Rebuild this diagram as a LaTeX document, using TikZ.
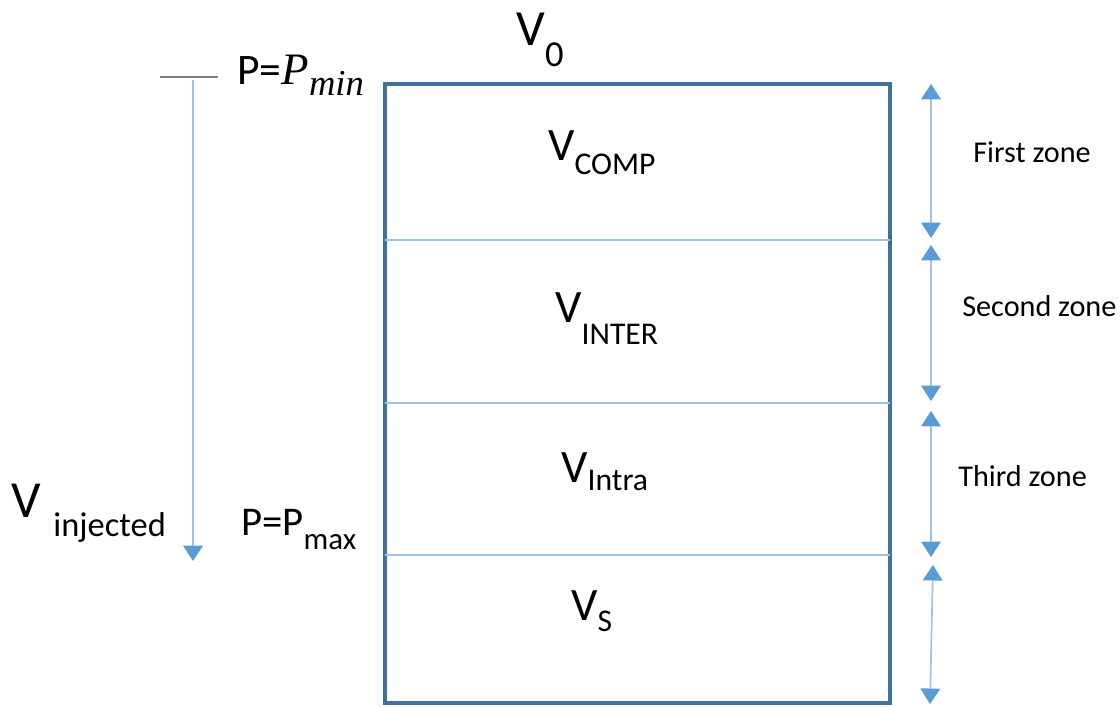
\documentclass[tikz,border=0pt]{standalone}
\usepackage{fontspec}
\setmainfont{Carlito}
\newfontfamily\pfont{Liberation Serif}
\usetikzlibrary{arrows.meta}
\definecolor{boxblue}{HTML}{41719C}
\definecolor{lineblue}{HTML}{9DC3E6}
\definecolor{tipblue}{HTML}{5B9BD5}
% V with a lowered label: #1 = drop, #2 = label
\newcommand{\vlabel}[2]{{\fontsize{33}{33}\selectfont V}\raisebox{-#1}{\fontsize{22.5}{22.5}\selectfont #2}}

\begin{document}
\begin{tikzpicture}[x=0.025cm, y=-0.025cm,
    zonearrow/.style={lineblue, line width=1.2pt,
        {Triangle[width=14pt,length=11pt,color=tipblue]}-{Triangle[width=14pt,length=11pt,color=tipblue]}},
    voltext/.style={anchor=base west, inner sep=0pt},
    zonetext/.style={anchor=base west, inner sep=0pt, font=\fontsize{21.5}{21.5}\selectfont}]
        \useasboundingbox (0,0) rectangle (1120,706);

        % Define corners of the box
        \coordinate (c1) at (385, 84);   % Top left
        \coordinate (c2) at (890, 84);   % Top right
        \coordinate (c3) at (890, 703);  % Bottom right
        \coordinate (c4) at (385, 703);  % Bottom left

        % Define zone borders
        \coordinate (l1) at (385, 240);  \coordinate (r1) at (890, 240);
        \coordinate (l2) at (385, 403);  \coordinate (r2) at (890, 403);
        \coordinate (l3) at (385, 555);  \coordinate (r3) at (890, 555);

        % Define ends of the zone arrows
        \coordinate (z1) at (931, 84);   \coordinate (z2) at (931, 238);
        \coordinate (z3) at (931, 245);  \coordinate (z4) at (931, 401);
        \coordinate (z5) at (931, 411);  \coordinate (z6) at (931, 557);
        \coordinate (z7) at (933, 565);  \coordinate (z8) at (930, 704);

        % Define ends of the injection arrow
        \coordinate (t1) at (160, 77);   % Tick left
        \coordinate (t2) at (218, 77);   % Tick right
        \coordinate (i1) at (193, 80);   % Arrow start
        \coordinate (i2) at (193, 561);  % Arrow end

        % Draw box outline
        \draw[boxblue, line width=2.2pt] (c1) -- (c2) -- (c3) -- (c4) -- cycle;

        % Draw zone borders
        \draw[lineblue, line width=1pt] (l1) -- (r1);
        \draw[lineblue, line width=1pt] (l2) -- (r2);
        \draw[lineblue, line width=1pt] (l3) -- (r3);

        % Draw zone arrows
        \draw[zonearrow] (z1) -- (z2);
        \draw[zonearrow] (z3) -- (z4);
        \draw[zonearrow] (z5) -- (z6);
        \draw[zonearrow] (z7) -- (z8);

        % Draw injection arrow
        \draw[gray, line width=1pt] (t1) -- (t2);
        \draw[lineblue, line width=1.2pt, -{Triangle[width=14pt,length=11pt,color=tipblue]}] (i1) -- (i2);

        % Label volumes
        \node[voltext] (v0) at (516, 45) {{\fontsize{36}{36}\selectfont V}\raisebox{-15pt}{\fontsize{26}{26}\selectfont 0}};
        \node[voltext] (vcomp) at (548, 160) {\vlabel{10.6pt}{COMP}};
        \node[voltext] (vinter) at (555, 322) {\vlabel{16pt}{INTER}};
        \node[voltext] (vintra) at (561, 482) {\vlabel{6pt}{Intra}};
        \node[voltext] (vs) at (571, 620) {\vlabel{8.5pt}{S}};
        \node[voltext] (vinj) at (11, 517) {{\fontsize{37}{37}\selectfont V}\hspace{9pt}\raisebox{-14pt}{\fontsize{24.5}{24.5}\selectfont injected}};

        % Label pressures
        \node[voltext] (pmin) at (237, 84) {\fontsize{31}{31}\selectfont P={\pfont\itshape\fontsize{32}{32}\selectfont P}\raisebox{-8.5pt}{\pfont\itshape\fontsize{26}{26}\selectfont min}};
        \node[voltext] (pmax) at (241, 535) {\fontsize{29}{29}\selectfont P=P\raisebox{-10.6pt}{\fontsize{22}{22}\selectfont max}};

        % Label zones
        \node[zonetext] (first) at (973, 162) {First zone};
        \node[zonetext] (second) at (962, 316) {Second zone};
        \node[zonetext] (third) at (958, 486) {Third zone};
    \end{tikzpicture}
\end{document}
